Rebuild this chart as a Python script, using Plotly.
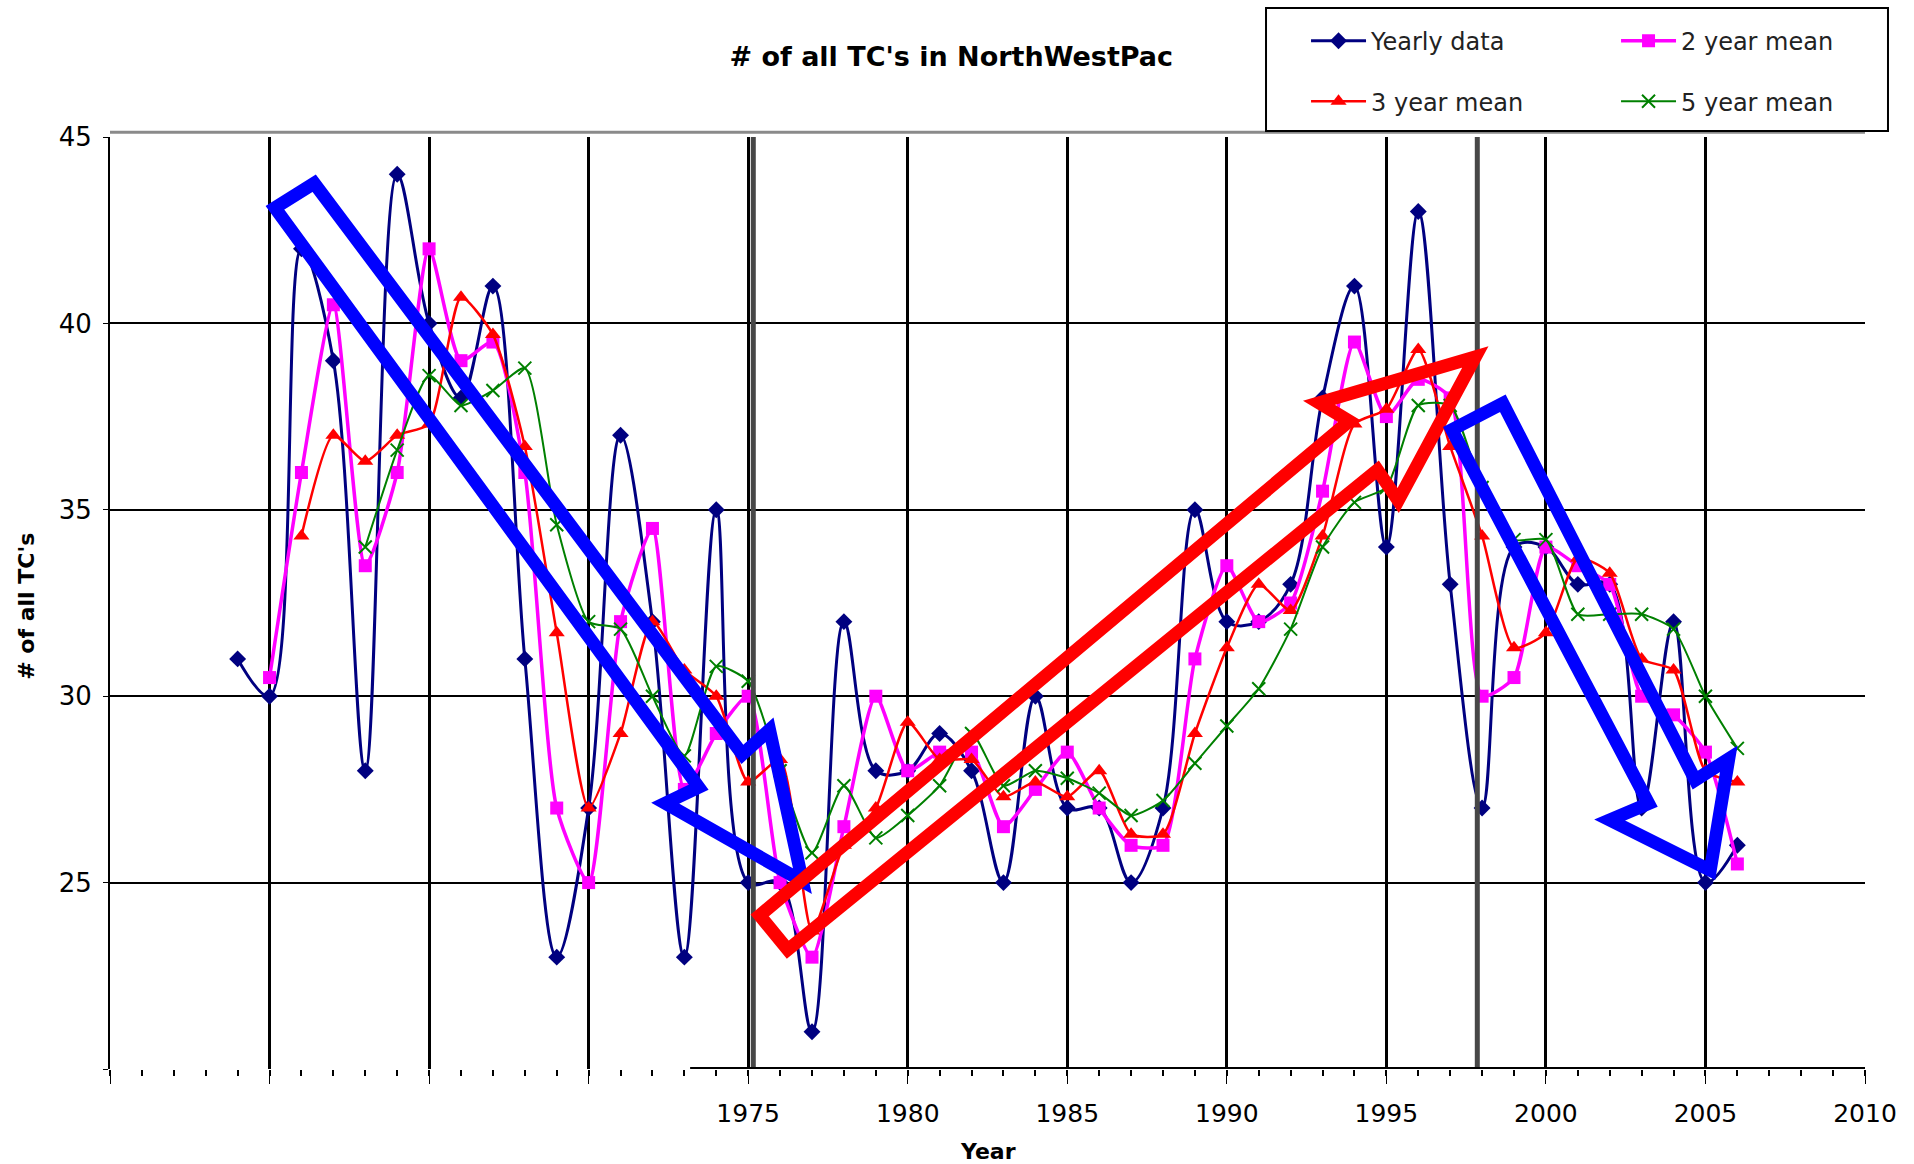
import plotly.graph_objects as go

# ---------------- data ----------------
years_yearly = list(range(1959, 2007))
yearly = [31, 30, 42, 39, 28, 44, 40, 38, 41, 31,
          23, 27, 37, 32, 23, 35, 25, 25, 21, 32,
          28, 28, 29, 28, 25, 30, 27, 27, 25, 27,
          35, 32, 32, 33, 38, 41, 34, 43, 33, 27,
          34, 34, 33, 33, 27, 32, 25, 26]

years_mean2 = list(range(1960, 2007))
mean2 = [30.5, 36, 40.5, 33.5, 36, 42, 39, 39.5, 36, 27,
         25, 32, 34.5, 27.5, 29, 30, 25, 23, 26.5, 30,
         28, 28.5, 28.5, 26.5, 27.5, 28.5, 27, 26, 26, 31,
         33.5, 32, 32.5, 35.5, 39.5, 37.5, 38.5, 38, 30, 30.5,
         34, 33.5, 33, 30, 29.5, 28.5, 25.5]

years_mean3 = list(range(1961, 2007))
mean3 = [34.3, 37, 36.3, 37, 37.3, 40.7, 39.7, 36.7, 31.7, 27,
         29, 32, 30.7, 30, 27.7, 28.3, 23.7, 26, 27, 29.3,
         28.3, 28.3, 27.3, 27.7, 27.3, 28, 26.3, 26.3, 29, 31.3,
         33, 32.3, 34.3, 37.3, 37.7, 39.3, 36.7, 34.3, 31.3, 31.7,
         33.7, 33.3, 31, 30.7, 28, 27.7]

years_mean5 = list(range(1963, 2007))
mean5 = [34, 36.6, 38.6, 37.8, 38.2, 38.8, 34.6, 32, 31.8, 30,
         28.4, 30.8, 30.4, 28, 25.8, 27.6, 26.2, 26.8, 27.6, 29,
         27.6, 28, 27.8, 27.4, 26.8, 27.2, 28.2, 29.2, 30.2, 31.8,
         34, 35.2, 35.6, 37.8, 37.8, 35.6, 34.2, 34.2, 32.2, 32.2,
         32.2, 31.8, 30, 28.6]

x_tick_values = [1955, 1960, 1965, 1970, 1975, 1980, 1985, 1990, 1995, 2000, 2005, 2010]
x_tick_labels = ["", "", "", "", "1975", "1980", "1985", "1990", "1995", "2000", "2005", "2010"]
y_tick_values = [20, 25, 30, 35, 40, 45]
y_tick_labels = ["", "25", "30", "35", "40", "45"]

# annotation arrows (year, value) outlines
blue_arrow_1 = [(1960.17, 43.1), (1961.4, 43.76), (1974.82, 28.44), (1975.67, 29.1),
                (1976.7, 25.04), (1972.4, 27.13), (1973.45, 27.56)]
red_arrow = [(1975.36, 24.12), (1993.84, 37.38), (1992.89, 37.87), (1997.79, 39.1),
             (1995.37, 35.25), (1994.72, 36.07), (1976.24, 23.2)]
blue_arrow_2 = [(1997.05, 37.15), (1998.65, 37.86), (2004.68, 27.75), (2005.73, 28.32),
                (2005.15, 25.33), (2002.0, 26.68), (2003.22, 27.12)]
marker_years = [1975.16, 1997.85]

FONT = "DejaVu Sans"

fig = go.Figure()
fig.add_trace(go.Scatter(
    x=years_yearly, y=yearly, name="Yearly data", mode="lines+markers",
    line=dict(color="#000080", width=3, shape="spline", smoothing=1.0),
    marker=dict(symbol="diamond", size=13, color="#000080"),
    legend="legend"))
fig.add_trace(go.Scatter(
    x=years_mean2, y=mean2, name="2 year mean", mode="lines+markers",
    line=dict(color="#FF00FF", width=3.5, shape="spline", smoothing=0.6),
    marker=dict(symbol="square", size=13, color="#FF00FF"),
    legend="legend"))
fig.add_trace(go.Scatter(
    x=years_mean3, y=mean3, name="3 year mean", mode="lines+markers",
    line=dict(color="#FF0000", width=2.5, shape="spline", smoothing=0.6),
    marker=dict(symbol="triangle-up", size=14, color="#FF0000"),
    legend="legend2"))
fig.add_trace(go.Scatter(
    x=years_mean5, y=mean5, name="5 year mean", mode="lines+markers",
    line=dict(color="#008000", width=2, shape="spline", smoothing=0.6),
    marker=dict(symbol="x-thin", size=13, color="#008000",
                line=dict(color="#008000", width=2)),
    legend="legend2"))


def path_of(pts):
    return "M " + " L ".join(f"{x},{y}" for x, y in pts) + " Z"


shapes = []
# thick dark-grey vertical markers
for yr in marker_years:
    shapes.append(dict(type="line", xref="x", yref="y", x0=yr, x1=yr, y0=20, y1=45.25,
                       line=dict(color="#474747", width=5), layer="above"))
# grey line above top border
shapes.append(dict(type="line", xref="paper", yref="paper", x0=0, x1=1, y0=1.005, y1=1.005,
                   line=dict(color="#8a8a8a", width=3), layer="above"))
# bottom axis line (only right part, as in the reference)
shapes.append(dict(type="line", xref="x", yref="y", x0=1973.18, x1=2010, y0=20, y1=20,
                   line=dict(color="black", width=4), layer="above"))
# arrows
shapes.append(dict(type="path", xref="x", yref="y", path=path_of(blue_arrow_1),
                   line=dict(color="#0000FF", width=13), layer="above"))
shapes.append(dict(type="path", xref="x", yref="y", path=path_of(red_arrow),
                   line=dict(color="#FF0000", width=13), layer="above"))
shapes.append(dict(type="path", xref="x", yref="y", path=path_of(blue_arrow_2),
                   line=dict(color="#0000FF", width=13), layer="above"))
# legend box
shapes.append(dict(type="rect", xref="paper", yref="paper", x0=0.6587, x1=1.0131,
                   y0=1.0064, y1=1.1384, line=dict(color="black", width=2),
                   fillcolor="white", layer="above"))

legend_common = dict(orientation="h", xanchor="left", yanchor="top",
                     bgcolor="rgba(0,0,0,0)", borderwidth=0,
                     font=dict(family=FONT, size=24, color="#222"),
                     itemwidth=55, entrywidth=240, entrywidthmode="pixels",
                     tracegroupgap=0)

fig.update_layout(
    width=1914, height=1164,
    margin=dict(l=110, r=49, t=137, b=95, autoexpand=False),
    paper_bgcolor="white", plot_bgcolor="white",
    font=dict(family=FONT, color="black"),
    title=dict(text="<b># of all TC's in NorthWestPac</b>", x=0.497, xref="container",
               y=1 - 57 / 1164, yref="container", xanchor="center", yanchor="middle",
               font=dict(family=FONT, size=27, color="black")),
    showlegend=True,
    legend=dict(x=0.6815, y=1.127, **legend_common),
    legend2=dict(x=0.6815, y=1.062, **legend_common),
    shapes=shapes,
    xaxis=dict(range=[1955, 2010], tickmode="array", tickvals=x_tick_values,
               ticktext=x_tick_labels, showgrid=True, gridcolor="black", gridwidth=2.5,
               zeroline=False, showline=False, ticks="outside", ticklen=14,
               tickcolor="black", tickwidth=1, ticklabelstandoff=8,
               tickfont=dict(family=FONT, size=25, color="black")),
    yaxis=dict(range=[20, 45], tickmode="array", tickvals=y_tick_values,
               ticktext=y_tick_labels, showgrid=True, gridcolor="black", gridwidth=2,
               zeroline=False, showline=True, linecolor="black", linewidth=2,
               ticks="outside", ticklen=5, tickcolor="black", ticklabelstandoff=6,
               tickfont=dict(family=FONT, size=26, color="black")),
    annotations=[
        dict(text="<b># of all TC's</b>", xref="paper", yref="paper", x=-0.0473, y=0.497,
             textangle=-90, showarrow=False, xanchor="center", yanchor="middle",
             font=dict(family=FONT, size=22, color="black")),
        dict(text="<b>Year</b>", xref="paper", yref="paper", x=0.5003, y=-0.088,
             showarrow=False, xanchor="center", yanchor="middle",
             font=dict(family=FONT, size=22, color="black")),
    ],
)
fig.update_xaxes(minor=dict(tick0=1955, dtick=1, ticks="outside", ticklen=6,
                            tickcolor="black", tickwidth=2, showgrid=False))

fig.write_html("out.html", config={"displayModeBar": False},
               post_script="document.body.style.margin='0';")
